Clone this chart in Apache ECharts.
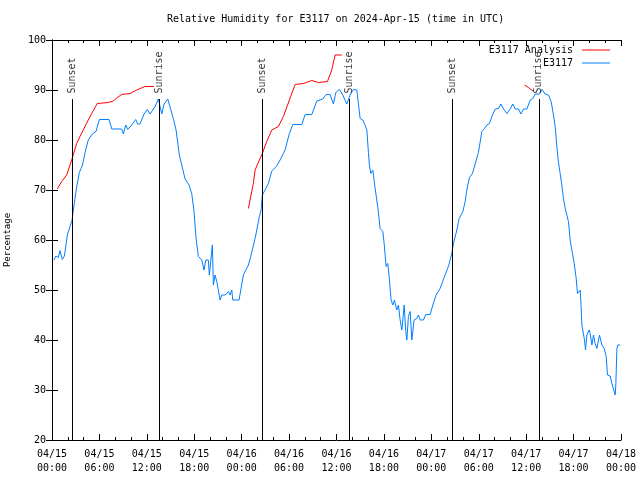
<!DOCTYPE html>
<html>
<head>
<meta charset="utf-8">
<script src="https://cdn.jsdelivr.net/npm/echarts@6/dist/echarts.min.js"></script>
<style>html,body{margin:0;padding:0;background:#fff}#c{width:640px;height:480px}</style>
</head>
<body>
<div id="c"></div>
<script>
// ---- data (time in hours since 04/15 00:00 UTC) ----
const xTickLabels = ['04/15\n00:00','04/15\n06:00','04/15\n12:00','04/15\n18:00','04/16\n00:00','04/16\n06:00','04/16\n12:00','04/16\n18:00','04/17\n00:00','04/17\n06:00','04/17\n12:00','04/17\n18:00','04/18\n00:00'];

const blueHours = [0.25,0.51,0.80,1.01,1.30,1.56,1.77,1.94,2.28,2.53,2.70,2.91,3.13,3.46,3.86,4.18,4.59,5.10,5.57,5.99,7.22,7.56,8.82,9.03,9.33,9.58,10.0,10.59,10.85,11.14,11.65,12.06,12.41,12.62,13.04,13.46,13.89,14.18,14.65,15.03,15.35,15.70,16.11,16.42,16.84,17.34,17.68,17.97,18.23,18.52,18.95,19.24,19.46,19.78,19.91,20.13,20.29,20.42,20.63,20.85,21.05,21.27,21.48,21.90,22.32,22.53,22.75,22.87,23.67,23.92,24.22,24.56,24.85,25.15,25.35,25.70,25.91,26.24,26.46,26.62,26.96,27.38,27.81,28.39,28.86,29.28,29.49,30.04,30.47,31.61,32.03,32.87,33.51,34.27,34.68,35.19,35.61,35.91,36.37,36.80,37.30,37.72,38.14,38.57,38.99,39.33,39.53,39.84,40.04,40.16,40.34,40.59,40.89,41.23,41.52,41.86,42.03,42.28,42.49,42.70,42.91,43.13,43.33,43.63,43.84,44.05,44.27,44.56,44.77,44.90,45.10,45.32,45.53,45.82,46.16,46.37,46.58,47.0,47.30,47.85,48.19,48.61,49.11,49.62,50.16,50.59,50.80,51.23,51.52,51.99,52.28,52.49,52.82,53.20,53.54,53.96,54.39,54.72,55.03,55.35,55.66,56.08,56.49,56.80,57.13,57.56,57.97,58.32,58.61,59.03,59.33,59.66,60.09,60.51,60.85,61.14,61.68,61.99,62.41,62.82,63.16,63.46,63.67,63.89,64.09,64.30,64.49,64.72,64.94,65.15,65.35,65.57,65.78,66.08,66.33,66.49,66.67,66.84,66.96,67.05,67.25,67.38,67.51,67.68,67.97,68.10,68.32,68.52,68.73,68.95,69.28,69.58,69.87,70.13,70.29,70.63,70.85,71.05,71.27,71.35,71.48,71.6,71.9];
const blueValues = [56.0,56.8,56.5,57.9,56.1,56.8,59.0,61.0,62.7,63.9,66.0,68.3,70.7,73.5,75.0,77.5,80.0,81.2,81.7,84.1,84.1,82.2,82.2,81.2,83.0,82.1,82.8,84.1,83.2,83.2,85.2,86.1,85.2,85.2,86.7,88.2,85.2,87.2,88.2,86.1,84.3,82.0,77.0,75.0,72.2,71.0,69.3,65.7,60.3,56.7,56.0,54.0,56.0,56.0,53.0,52.7,59.0,51.0,53.0,51.7,50.0,48.0,49.0,49.0,49.7,49.0,50.0,48.0,48.0,50.3,53.0,54.1,55.0,56.7,58.1,60.3,62.0,64.7,66.0,69.0,70.0,71.3,73.8,74.7,76.0,77.3,78.0,81.3,83.1,83.1,85.1,85.1,87.8,88.2,89.1,89.1,87.2,89.5,90.1,89.0,87.2,89.0,90.1,90.0,84.3,84.0,83.3,82.0,77.5,75.0,73.3,74.0,70.3,66.5,62.3,61.7,59.3,54.7,55.3,52.0,48.0,47.0,48.0,46.0,47.0,44.0,42.0,47.0,41.7,40.0,44.7,45.7,40.0,44.0,44.3,45.0,44.0,44.0,45.1,45.1,47.0,49.0,50.3,52.5,54.7,57.3,59.3,62.0,64.3,65.7,67.7,70.0,72.5,73.3,75.2,77.5,81.7,82.3,83.0,83.3,84.7,86.2,86.3,87.2,86.2,85.3,86.2,87.2,86.2,86.2,85.2,86.2,86.2,88.0,88.3,89.2,89.2,90.1,89.2,89.0,87.7,85.0,82.7,78.5,75.5,73.3,71.3,68.3,66.3,66.0,63.7,60.0,58.0,55.3,52.3,49.3,49.0,50.0,46.3,43.0,43.0,40.0,38.0,41.0,42.0,41.3,39.0,41.0,39.3,38.3,41.0,39.0,38.3,36.7,33.0,32.8,31.3,31.0,29.0,31.3,38.3,39.0,39.0];

const redHours1 = [0.67,1.22,1.86,2.57,3.12,3.54,4.39,5.02,5.73,7.13,7.76,8.27,8.82,9.87,10.72,11.77,12.91];
const redValues1 = [70.2,71.7,73.0,76.4,79.3,80.7,83.4,85.3,87.3,87.5,87.8,88.5,89.1,89.3,90.0,90.7,90.7];
const redHours2 = [24.85,25.06,25.48,25.70,26.24,26.62,27.17,27.81,28.65,29.28,30.04,30.76,31.81,32.87,33.71,34.85,35.40,35.82,36.67];
const redValues2 = [66.3,68.0,71.3,74.0,76.0,77.3,79.7,82.0,82.7,84.7,88.0,91.1,91.3,91.9,91.5,91.7,94.0,97.0,97.0];
const redHours3 = [59.8,60.3,60.85];
const redValues3 = [91.0,90.5,89.8];

const sunHours = [2.57,13.54,26.62,37.63,50.67,61.6];
const sunNames = ['Sunset','Sunrise','Sunset','Sunrise','Sunset','Sunrise'];
const sunTop = 88.2;
const sunLabelAt = 89.3;

const titleText = 'Relative Humidity for E3117 on 2024-Apr-15 (time in UTC)';
const yName = 'Percentage';
const analysisName = 'E3117 Analysis';
const obsName = 'E3117';

// ---- chart ----
const FONT = 'DejaVu Sans Mono';
const pairs = (xs, ys) => xs.map((x, i) => [x, ys[i]]);
const chart = echarts.init(document.getElementById('c'), null, {renderer: 'canvas'});

const sunLineData = sunHours.map(h => [{coord: [h, sunTop]}, {coord: [h, 20]}]);
const LINE_ICON = 'path://M0,0L28,0L28,1L0,1Z';

const redStyle = {type: 'line', name: analysisName, symbol: 'none', showSymbol: false,
  lineStyle: {color: '#ff0000', width: 1}, itemStyle: {color: '#ff0000'}, z: 3};

chart.setOption({
  animation: false,
  backgroundColor: '#ffffff',
  title: {
    text: titleText, left: 167, top: 14, padding: 0,
    textStyle: {fontFamily: FONT, fontSize: 10, fontWeight: 'normal', color: '#000'}
  },
  legend: {
    data: [{name: analysisName, icon: LINE_ICON}, {name: obsName, icon: LINE_ICON}],
    orient: 'vertical', right: 30, top: 45, align: 'right', padding: 0,
    itemWidth: 28, itemHeight: 12, itemGap: 3, symbolKeepAspect: true,
    textStyle: {fontFamily: FONT, fontSize: 10, color: '#000', padding: [0, 4, 0, 0]},
    selectedMode: false
  },
  grid: {left: 52, right: 19, top: 40, bottom: 40, show: false, containLabel: false, outerBoundsMode: 'none'},
  xAxis: [{
    type: 'value', min: 0, max: 72, interval: 6,
    axisLine: {show: true, lineStyle: {color: '#000', width: 1}},
    axisTick: {show: true, inside: true, length: 6, lineStyle: {color: '#000'}},
    minorTick: {show: true, splitNumber: 3, length: 3, lineStyle: {color: '#000'}},
    splitLine: {show: false},
    axisLabel: {
      formatter: v => xTickLabels[Math.round(v / 6)],
      fontFamily: FONT, fontSize: 10, color: '#000', lineHeight: 14, margin: 7
    }
  }, {
    type: 'value', min: 0, max: 72, interval: 6, position: 'top',
    axisLine: {show: true, lineStyle: {color: '#000', width: 1}},
    axisTick: {show: true, inside: true, length: 6, lineStyle: {color: '#000'}},
    minorTick: {show: true, splitNumber: 3, length: 3, lineStyle: {color: '#000'}},
    splitLine: {show: false},
    axisLabel: {show: false}
  }],
  yAxis: [{
    type: 'value', min: 20, max: 100, interval: 10,
    name: yName, nameLocation: 'middle', nameGap: 40,
    nameTextStyle: {fontFamily: FONT, fontSize: 9, color: '#000'},
    axisLine: {show: true, lineStyle: {color: '#000', width: 1}},
    axisTick: {show: true, inside: true, length: 6, lineStyle: {color: '#000'}},
    splitLine: {show: false},
    axisLabel: {fontFamily: FONT, fontSize: 10, color: '#000', margin: 6}
  }, {
    type: 'value', min: 20, max: 100, interval: 10, position: 'right',
    axisLine: {show: true, lineStyle: {color: '#000', width: 1}},
    axisTick: {show: true, inside: true, length: 6, lineStyle: {color: '#000'}},
    splitLine: {show: false},
    axisLabel: {show: false}
  }],
  series: [
    Object.assign({}, redStyle, {data: pairs(redHours1, redValues1)}),
    Object.assign({}, redStyle, {data: pairs(redHours2, redValues2)}),
    Object.assign({}, redStyle, {data: pairs(redHours3, redValues3)}),
    {
      type: 'line', name: obsName, symbol: 'none', showSymbol: false,
      lineStyle: {color: '#0080ff', width: 1}, itemStyle: {color: '#0080ff'}, z: 4,
      data: pairs(blueHours, blueValues),
      markLine: {
        silent: true, symbol: ['none', 'none'], animation: false,
        lineStyle: {color: '#000', width: 1, type: 'solid'},
        label: {show: false},
        data: sunLineData
      }
    },
    {
      type: 'scatter', name: 'sun', symbolSize: 0, silent: true, z: 5,
      data: sunHours.map((h, i) => ({value: [h, sunLabelAt], name: sunNames[i]})),
      label: {
        show: true, position: 'inside', rotate: 90, align: 'left', verticalAlign: 'middle',
        formatter: p => p.name, fontFamily: FONT, fontSize: 10, color: '#000'
      }
    }
  ]
});
</script>
</body>
</html>
